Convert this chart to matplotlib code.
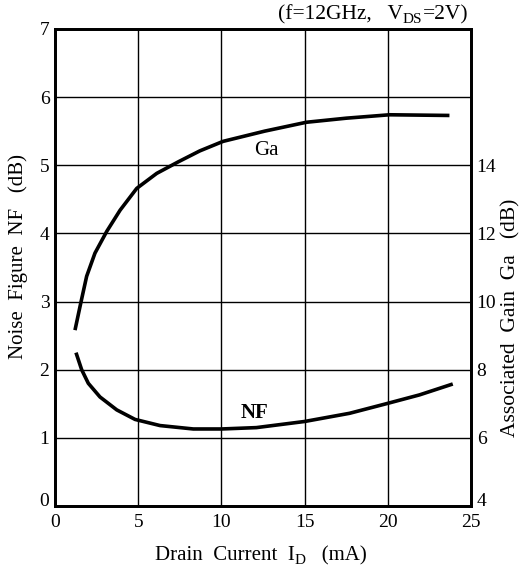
import matplotlib
matplotlib.use("Agg")
import matplotlib.pyplot as plt
from matplotlib.transforms import ScaledTranslation

plt.rcParams['font.family'] = ['Liberation Serif', 'DejaVu Serif']

# Drain current (mA) and data
ga_id = [1.20, 1.54, 1.90, 2.40, 3.11, 3.91, 4.91, 6.11, 7.41, 8.7, 10.1, 12.6, 15.1, 17.5, 20.1, 23.7]
ga_val = [9.16, 9.94, 10.74, 11.42, 12.06, 12.68, 13.32, 13.76, 14.10, 14.42, 14.70, 15.0, 15.26, 15.38, 15.48, 15.46]

nf_id = [1.26, 1.60, 2.0, 2.7, 3.71, 4.81, 6.31, 8.31, 10.0, 12.1, 15.0, 17.7, 19.9, 21.9, 23.9]
nf_val = [2.25, 2.0, 1.80, 1.60, 1.41, 1.27, 1.18, 1.13, 1.13, 1.15, 1.24, 1.36, 1.50, 1.63, 1.79]

x_ticks = [0, 5, 10, 15, 20, 25]
nf_ticks = [0, 1, 2, 3, 4, 5, 6, 7]
ga_ticks = [4, 6, 8, 10, 12, 14]

FS = 15

fig = plt.figure(figsize=(5.24, 5.70), dpi=100)
ax = fig.add_axes([0.105, 0.1123, 0.794, 0.837])
ax2 = ax.twinx()

ax.set_xlim(0, 25)
ax.set_ylim(0, 7)
ax2.set_ylim(4, 18)

ax.set_xticks(x_ticks)
ax.set_yticks(nf_ticks)
ax2.set_yticks(ga_ticks)
ax.grid(True, color='black', linewidth=1.0)
ax.set_axisbelow(True)

for a in (ax, ax2):
    a.tick_params(length=0, labelsize=14, pad=4)
    for s in a.spines.values():
        s.set_linewidth(2.0)
        s.set_color('black')
ax.tick_params(axis='x', pad=6)

ax.plot(nf_id, nf_val, color='black', lw=2.6, solid_capstyle='butt', solid_joinstyle='round')
ax2.plot(ga_id, ga_val, color='black', lw=2.6, solid_capstyle='butt', solid_joinstyle='round')

ax.text(12.0, 1.37, 'NF', fontsize=FS, fontweight='bold', ha='center', va='center')
ax.text(12.7, 5.22, 'Ga', fontsize=FS, ha='center', va='center')

fig.text(18 / 524, 1 - 256 / 570, 'Noise  Figure  NF   (dB)', fontsize=FS,
         rotation=90, ha='center', va='center')
fig.text(511 / 524, 1 - 318 / 570, 'Associated  Gain  Ga   (dB)', fontsize=15.5,
         rotation=90, ha='center', va='center')

fig.canvas.draw()
r = fig.canvas.get_renderer()
W = 524

# x label built from parts for the subscript
xl = fig.text(155 / W, 1 - 560 / 570, 'Drain  Current  I', fontsize=FS, ha='left', va='baseline')
bb = xl.get_window_extent(r)
sub = fig.text(bb.x1 / W, 1 - 564 / 570, 'D', fontsize=11, ha='left', va='baseline')
bb2 = sub.get_window_extent(r)
fig.text(bb2.x1 / W, 1 - 560 / 570, '   (mA)', fontsize=FS, ha='left', va='baseline')

# title
TF = 15.5
t1 = fig.text(278 / W, 1 - 19 / 570, '(f=12GHz,   V', fontsize=TF, ha='left', va='baseline')
bb = t1.get_window_extent(r)
t2 = fig.text(bb.x1 / W, 1 - 23 / 570, 'DS', fontsize=11, ha='left', va='baseline')
bb2 = t2.get_window_extent(r)
fig.text(bb2.x1 / W, 1 - 19 / 570, '=2V)', fontsize=TF, ha='left', va='baseline')

# nudge the bottom tick labels up slightly as in the reference
off = ScaledTranslation(0, 6 / 100, fig.dpi_scale_trans)
for lab in (ax.get_yticklabels()[0], ax2.get_yticklabels()[0]):
    lab.set_transform(lab.get_transform() + off)

fig.savefig('out.png', dpi=100)
